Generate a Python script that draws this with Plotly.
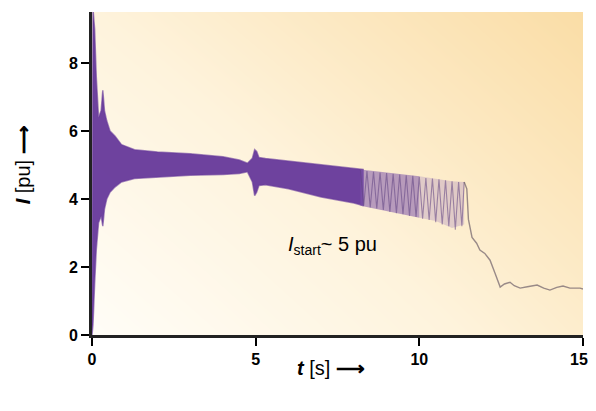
import plotly.graph_objects as go

# ---- data ----
# dense oscillation band (envelope of the starting current)
t_env = [0.0, 0.03, 0.08, 0.13, 0.2, 0.28, 0.33, 0.38, 0.45, 0.55, 0.7, 0.9, 1.3, 2.0, 3.0, 4.0,
         4.5, 4.75, 4.9, 4.97, 5.03, 5.1, 5.3, 6.0, 7.0, 8.0, 8.3]
i_upper = [0.5, 9.6, 9.0, 7.6, 6.4, 6.6, 7.2, 6.6, 6.3, 6.0, 5.85, 5.6, 5.45, 5.38, 5.33, 5.24,
           5.15, 5.05, 5.2, 5.45, 5.4, 5.22, 5.19, 5.12, 5.0, 4.9, 4.87]
i_lower = [0.0, 0.3, 1.5, 2.5, 3.3, 3.5, 3.2, 3.7, 4.0, 4.2, 4.35, 4.5, 4.6, 4.65, 4.7, 4.72,
           4.75, 4.8, 4.5, 4.1, 4.2, 4.4, 4.42, 4.3, 4.06, 3.88, 3.8]

# visible oscillations before pull-out
t_osc = [8.2, 8.3, 8.4, 8.5, 8.6, 8.7, 8.8, 8.9, 9.0, 9.1, 9.2, 9.3, 9.4, 9.5, 9.6, 9.7, 9.8,
         9.9, 10.0, 10.1, 10.2, 10.3, 10.4, 10.5, 10.6, 10.7, 10.8, 10.9, 11.0, 11.1, 11.2,
         11.3, 11.37]
i_osc = [4.85, 3.8, 4.82, 3.75, 4.8, 3.72, 4.78, 3.68, 4.76, 3.62, 4.74, 3.58, 4.72, 3.55,
         4.7, 3.5, 4.68, 3.47, 4.65, 3.42, 4.62, 3.38, 4.6, 3.32, 4.58, 3.25, 4.55, 3.2,
         4.52, 3.1, 4.5, 3.2, 4.5]
t_mid = [8.2, 9.0, 10.0]
i_mid_up = [4.87, 4.78, 4.67]
i_mid_lo = [3.8, 3.64, 3.45]
t_faint = [10.0, 10.5, 11.0, 11.37]
i_faint_up = [4.67, 4.6, 4.52, 4.5]
i_faint_lo = [3.45, 3.35, 3.15, 3.25]

# after run-up
t_tail = [11.37, 11.45, 11.5, 11.61, 11.75, 11.85, 12.0, 12.16, 12.31, 12.47, 12.6, 12.77,
          12.9, 13.08, 13.3, 13.6, 13.8, 13.99, 14.2, 14.39, 14.6, 14.91, 15.0]
i_tail = [4.5, 4.3, 3.4, 2.87, 2.7, 2.5, 2.4, 2.2, 1.82, 1.41, 1.5, 1.55, 1.45, 1.38, 1.42,
          1.47, 1.38, 1.32, 1.4, 1.44, 1.38, 1.38, 1.35]

x_ticks = [0, 5, 10, 15]
x_ticktext = ["0", "5", "10", "15\u2002"]
y_ticks = [0, 2, 4, 6, 8]

# background gradient corners
bg_x = [0, 15]
bg_y = [0, 9.5]
bg_z = [[0.0, 0.6], [0.45, 1.0]]

FONT = "Liberation Sans, Arial, sans-serif"
PURPLE = "rgba(104,58,155,0.96)"

fig = go.Figure()

fig.add_trace(go.Heatmap(x=bg_x, y=bg_y, z=bg_z, zsmooth="best", showscale=False,
                         colorscale=[[0, "#FFFDF7"], [0.45, "#FEF3DC"], [1, "#FADDA6"]],
                         hoverinfo="skip"))

fig.add_trace(go.Scatter(x=t_env, y=i_lower, mode="lines", line=dict(width=0),
                         showlegend=False, hoverinfo="skip"))
fig.add_trace(go.Scatter(x=t_env, y=i_upper, mode="lines", fill="tonexty",
                         fillcolor=PURPLE, line=dict(width=1.5, color="rgba(104,58,155,0.6)"),
                         showlegend=False))
fig.add_trace(go.Scatter(x=t_env, y=i_lower, mode="lines",
                         line=dict(width=1.5, color="rgba(104,58,155,0.6)"),
                         showlegend=False))

fig.add_trace(go.Scatter(x=t_mid, y=i_mid_lo, mode="lines", line=dict(width=0),
                         showlegend=False, hoverinfo="skip"))
fig.add_trace(go.Scatter(x=t_mid, y=i_mid_up, mode="lines", fill="tonexty",
                         fillcolor="rgba(125,85,170,0.55)", line=dict(width=0),
                         showlegend=False))
fig.add_trace(go.Scatter(x=t_faint, y=i_faint_lo, mode="lines", line=dict(width=0),
                         showlegend=False, hoverinfo="skip"))
fig.add_trace(go.Scatter(x=t_faint, y=i_faint_up, mode="lines", fill="tonexty",
                         fillcolor="rgba(150,115,185,0.28)", line=dict(width=0),
                         showlegend=False))
fig.add_trace(go.Scatter(x=t_osc, y=i_osc, mode="lines",
                         line=dict(width=1.1, color="rgba(95,65,130,0.55)"),
                         showlegend=False))

fig.add_trace(go.Scatter(x=t_tail, y=i_tail, mode="lines",
                         line=dict(width=1.4, color="rgba(110,95,105,0.7)"),
                         showlegend=False))

fig.add_annotation(x=7.35, y=2.64, xref="x", yref="y", showarrow=False,
                   text="<i>I</i><sub>start</sub>~ 5 pu",
                   font=dict(family=FONT, size=20, color="black"))

# axis titles as annotations for exact placement
fig.add_annotation(x=0.486, y=-0.102, xref="paper", yref="paper", showarrow=False,
                   xanchor="center", yanchor="middle",
                   text="<b><i>t</i></b> [s] <b>⟶</b>",
                   font=dict(family=FONT, size=20, color="black"))
fig.add_annotation(x=-0.14, y=0.526, xref="paper", yref="paper", showarrow=False,
                   xanchor="center", yanchor="middle",
                   textangle=-90, text="<b><i>I</i></b> [pu] <b>⟶</b>",
                   font=dict(family=FONT, size=20, color="black"))

axis_common = dict(showgrid=False, zeroline=False, showline=True, linecolor="#222",
                   linewidth=3, ticks="outside", ticklen=8, tickwidth=2,
                   tickcolor="black", automargin=False, ticklabeloverflow="allow",
                   tickfont=dict(family=FONT, size=16, color="black", weight="bold"))

# page body has an 8px margin, so the figure is sized/offset to compensate
fig.update_layout(
    width=588, height=395,
    margin=dict(l=84, r=13, t=4, b=68),
    paper_bgcolor="white", plot_bgcolor="white",
    font=dict(family=FONT, color="black"),
    xaxis=dict(range=[0, 15], tickvals=x_ticks, ticktext=x_ticktext,
               **axis_common),
    yaxis=dict(range=[0, 9.5], tickvals=y_ticks, ticktext=[str(v) for v in y_ticks],
               **axis_common),
)

fig.write_html("out.html", post_script="document.body.style.overflow='hidden';")
